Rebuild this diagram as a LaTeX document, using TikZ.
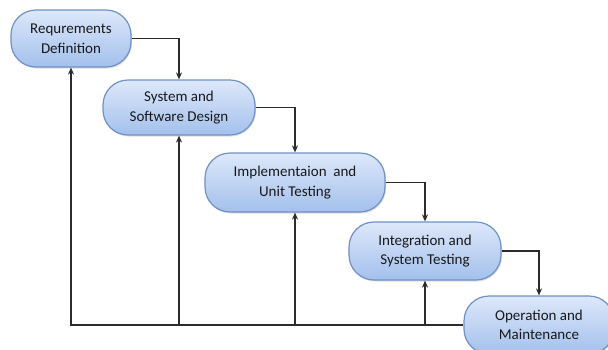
\documentclass[tikz,border=0pt]{standalone}
\usepackage{fontspec}
\setmainfont{Carlito}
\usetikzlibrary{arrows.meta,shadows}
\definecolor{boxtop}{HTML}{DDE8FA}
\definecolor{boxbot}{HTML}{A3C0EC}
\definecolor{boxline}{HTML}{6F91C6}
\definecolor{wire}{HTML}{2B2B2B}
\tikzset{
  phase/.style={rectangle, draw=boxline, line width=1.2pt,
    top color=boxtop, bottom color=boxbot, align=center, text=black!90,
    font=\fontsize{15}{19.5}\selectfont, inner sep=0pt,
    drop shadow={shadow xshift=1pt, shadow yshift=-1.5pt, opacity=0.25},
    rounded corners=25pt},
  flow/.style={draw=wire, line width=1.5pt, -{Stealth[length=7pt,width=6pt]}}
}
\begin{document}
\begin{tikzpicture}[x=1pt,y=-1pt]
\useasboundingbox (0,0) rectangle (608,349);
\node[phase, minimum width=120pt, minimum height=57pt] (b1) at (71,38.5) {Requrements\\Definition};
\node[phase, minimum width=152pt, minimum height=55pt] (b2) at (179,107.5) {System and\\Software Design};
\node[phase, minimum width=180pt, minimum height=59pt] (b3) at (295,182.5) {Implementaion ~and\\Unit Testing};
\node[phase, minimum width=152pt, minimum height=58pt] (b4) at (425,251) {Integration and\\System Testing};
\node[phase, minimum width=150pt, minimum height=58pt] (b5) at (539,325) {Operation and\\Maintenance};
\draw[flow] (b1.east) -| (b2.north);
\draw[flow] (b2.east) -| (b3.north);
\draw[flow] (b3.east) -| (b4.north);
\draw[flow] (b4.east) -| (b5.north);
\draw[flow] (b5.west) -| (b1.south);
\draw[flow] (b2.south |- b5.west) -- (b2.south);
\draw[flow] (b3.south |- b5.west) -- (b3.south);
\draw[flow] (b4.south |- b5.west) -- (b4.south);
\end{tikzpicture}
\end{document}
